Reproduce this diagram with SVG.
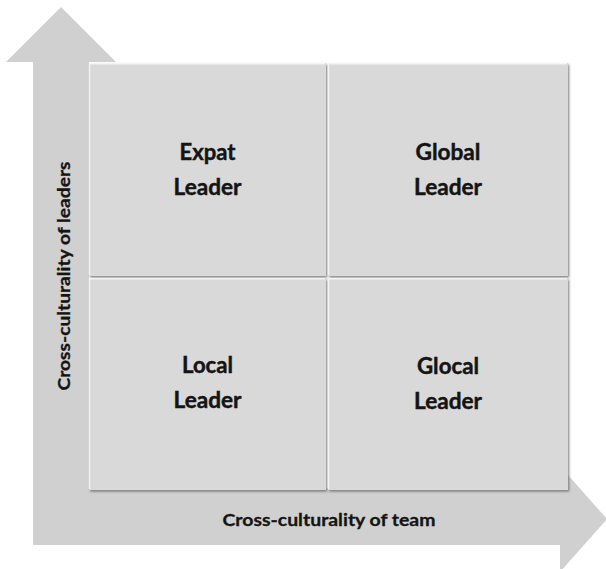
<svg xmlns="http://www.w3.org/2000/svg" width="606" height="569" viewBox="0 0 606 569">
  <style>
    .axis { fill: #d0d0d0; }
    .box { fill: #d9d9d9; filter: url(#bevel); }
    .hl { stroke: #f4f4f4; stroke-width: 1.5; fill: none; }
    .lbl { font-family: Lato, "Open Sans", "Liberation Sans", sans-serif; font-weight: bold; font-size: 23px; fill: #141414; stroke: #141414; stroke-width: 0.45; text-anchor: middle; }
    .ax { font-family: Lato, "Open Sans", "Liberation Sans", sans-serif; font-weight: bold; font-size: 17px; fill: #141414; stroke: #141414; stroke-width: 0.3; text-anchor: middle; }
  </style>
  <defs>
    <filter id="bevel" x="-5%" y="-5%" width="110%" height="110%">
      <feDropShadow dx="1.2" dy="1.6" stdDeviation="0.9" flood-color="#6e6e6e" flood-opacity="0.85"/>
    </filter>
  </defs>
  <rect width="606" height="569" fill="#ffffff"/>
  <g id="axes">
    <polygon class="axis" points="61,7 116,62 89,62 89,545 33,545 33,62 6,62"/>
    <polygon class="axis" points="33,488 560,488 560,466 607,519 560,572 560,545 33,545"/>
    <text class="ax" x="329" y="526" textLength="213" lengthAdjust="spacingAndGlyphs">Cross-culturality of team</text>
    <text class="ax" transform="translate(69.5,276) rotate(-90)" x="0" y="0" textLength="229" lengthAdjust="spacingAndGlyphs">Cross-culturality of leaders</text>
  </g>
  <g id="expat">
    <rect class="box" x="89" y="63" width="237" height="213"/>
    <polyline class="hl" points="89.5,275 89.5,63.8 325,63.8"/>
    <text class="lbl" x="207.5" y="160" textLength="56" lengthAdjust="spacingAndGlyphs">Expat</text>
    <text class="lbl" x="207.5" y="195" textLength="68" lengthAdjust="spacingAndGlyphs">Leader</text>
  </g>
  <g id="global">
    <rect class="box" x="328" y="63" width="240" height="213"/>
    <polyline class="hl" points="328.5,275 328.5,63.8 567,63.8"/>
    <text class="lbl" x="448" y="160" textLength="65" lengthAdjust="spacingAndGlyphs">Global</text>
    <text class="lbl" x="448" y="195" textLength="68" lengthAdjust="spacingAndGlyphs">Leader</text>
  </g>
  <g id="local">
    <rect class="box" x="89" y="278" width="237" height="212"/>
    <polyline class="hl" points="89.5,489 89.5,278.8 325,278.8"/>
    <text class="lbl" x="207.5" y="373" textLength="51" lengthAdjust="spacingAndGlyphs">Local</text>
    <text class="lbl" x="207.5" y="408" textLength="68" lengthAdjust="spacingAndGlyphs">Leader</text>
  </g>
  <g id="glocal">
    <rect class="box" x="328" y="278" width="240" height="212"/>
    <polyline class="hl" points="328.5,489 328.5,278.8 567,278.8"/>
    <text class="lbl" x="448" y="374" textLength="62" lengthAdjust="spacingAndGlyphs">Glocal</text>
    <text class="lbl" x="448" y="409" textLength="68" lengthAdjust="spacingAndGlyphs">Leader</text>
  </g>
</svg>
